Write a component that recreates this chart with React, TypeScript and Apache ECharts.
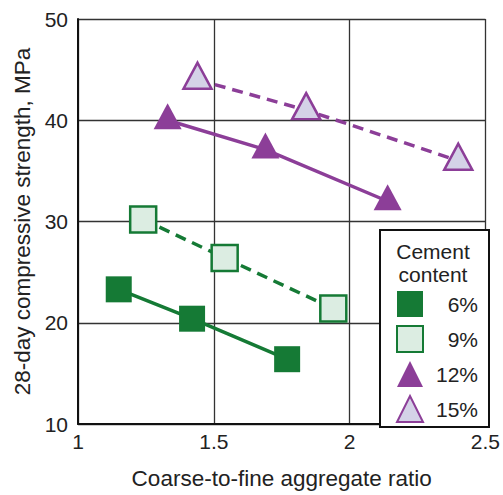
import React, { useEffect, useRef } from "react";
import * as echarts from "echarts";

// Coarse-to-fine aggregate ratio vs. 28-day compressive strength (MPa)
const ratio6 = [1.15, 1.42, 1.77];
const strength6 = [23.3, 20.4, 16.4];
const ratio9 = [1.24, 1.54, 1.94];
const strength9 = [30.2, 26.4, 21.4];
const ratio12 = [1.33, 1.69, 2.14];
const strength12 = [40.0, 37.1, 32.0];
const ratio15 = [1.44, 1.84, 2.4];
const strength15 = [44.0, 41.0, 36.0];

const xTicks = [1, 1.5, 2, 2.5];
const yTicks = [10, 20, 30, 40, 50];
const seriesNames = ["6%", "9%", "12%", "15%"];
const legendTitle = ["Cement", "content"];

const GREEN = "#157a35";
const GREEN_LIGHT = "#dcede2";
const PURPLE = "#8c3e98";
const PURPLE_LIGHT = "#d4d2e7";
const FONT = "Liberation Sans, Arial, sans-serif";
const FS = 21;
const NAME_FS = 22.5;

const pairs = (xs: number[], ys: number[]) => xs.map((x, i) => [x, ys[i]]);

export default function App() {
  const ref = useRef<HTMLDivElement>(null);

  useEffect(() => {
    if (!ref.current) return;
    const chart = echarts.init(ref.current, undefined, { renderer: "svg" });

    const makeSeries = (
      name: string,
      data: number[][],
      symbol: string,
      fill: string,
      stroke: string,
      dashed: boolean,
      hollow: boolean
    ) => ({
      name,
      type: "line",
      data,
      symbol,
      symbolSize: symbol === "rect" ? 26 : [28, 26],
      symbolOffset: symbol === "triangle" ? [0, -4] : [0, 0],
      showAllSymbol: true,
      lineStyle: {
        color: stroke,
        width: 3.5,
        type: dashed ? [11, 7] : "solid",
      },
      itemStyle: {
        color: fill,
        borderColor: stroke,
        borderWidth: hollow ? 2.5 : 0,
        opacity: 1,
      },
      emphasis: { disabled: true },
      z: 3,
    });

    chart.setOption({
      animation: false,
      backgroundColor: "#ffffff",
      textStyle: { fontFamily: FONT },
      grid: { left: 78, right: 13, top: 19, bottom: 69, containLabel: false },
      xAxis: {
        type: "value",
        min: xTicks[0],
        max: xTicks[xTicks.length - 1],
        interval: 0.5,
        name: "Coarse-to-fine aggregate ratio",
        nameLocation: "middle",
        nameGap: 43,
        nameTextStyle: { fontSize: NAME_FS, color: "#222", fontFamily: FONT },
        axisLine: { show: true, lineStyle: { color: "#111", width: 2 } },
        axisTick: { show: false },
        axisLabel: {
          fontSize: FS,
          color: "#222",
          margin: 7,
          fontFamily: FONT,
          formatter: (v: number) => String(v),
        },
        splitLine: { show: true, lineStyle: { color: "#333", width: 1.3 } },
      },
      yAxis: {
        type: "value",
        min: yTicks[0],
        max: yTicks[yTicks.length - 1],
        interval: 10,
        name: "28-day compressive strength, MPa",
        nameLocation: "middle",
        nameGap: 41,
        nameTextStyle: { fontSize: NAME_FS, color: "#222", fontFamily: FONT },
        axisLine: { show: true, lineStyle: { color: "#111", width: 2 } },
        axisTick: { show: false },
        axisLabel: { fontSize: FS, color: "#222", margin: 10, fontFamily: FONT },
        splitLine: { show: true, lineStyle: { color: "#333", width: 1.3 } },
      },
      legend: {
        orient: "vertical",
        left: 396,
        top: 291,
        itemWidth: 26,
        itemHeight: 26,
        itemGap: 8,
        padding: 0,
        selectedMode: false,
        z: 10,
        data: [
          { name: seriesNames[0], icon: "rect" },
          { name: seriesNames[1], icon: "rect" },
          { name: seriesNames[2], icon: "triangle" },
          { name: seriesNames[3], icon: "triangle" },
        ],
        formatter: (name: string) => `{v|${name}}`,
        textStyle: {
          fontSize: FS,
          color: "#222",
          fontFamily: FONT,
          rich: {
            v: {
              width: 50,
              align: "right",
              fontSize: FS,
              color: "#222",
              fontFamily: FONT,
            },
          },
        },
      },
      graphic: [
        {
          type: "rect",
          left: 379,
          top: 229,
          shape: { width: 109, height: 197 },
          style: { fill: "#ffffff", stroke: "#111", lineWidth: 2 },
          z: 5,
        },
        {
          type: "text",
          x: 433,
          y: 241,
          style: {
            text: legendTitle[0],
            fontSize: FS,
            fontFamily: FONT,
            fill: "#222",
            align: "center",
            verticalAlign: "top",
          },
          z: 6,
        },
        {
          type: "text",
          x: 433,
          y: 264,
          style: {
            text: legendTitle[1],
            fontSize: FS,
            fontFamily: FONT,
            fill: "#222",
            align: "center",
            verticalAlign: "top",
          },
          z: 6,
        },
      ],
      series: [
        makeSeries(seriesNames[0], pairs(ratio6, strength6), "rect", GREEN, GREEN, false, false),
        makeSeries(seriesNames[1], pairs(ratio9, strength9), "rect", GREEN_LIGHT, GREEN, true, true),
        makeSeries(seriesNames[2], pairs(ratio12, strength12), "triangle", PURPLE, PURPLE, false, false),
        makeSeries(seriesNames[3], pairs(ratio15, strength15), "triangle", PURPLE_LIGHT, PURPLE, true, true),
      ],
    });

    return () => chart.dispose();
  }, []);

  return (
    <div
      ref={ref}
      style={{ position: "absolute", left: 0, top: 0, width: 503, height: 495 }}
    />
  );
}
